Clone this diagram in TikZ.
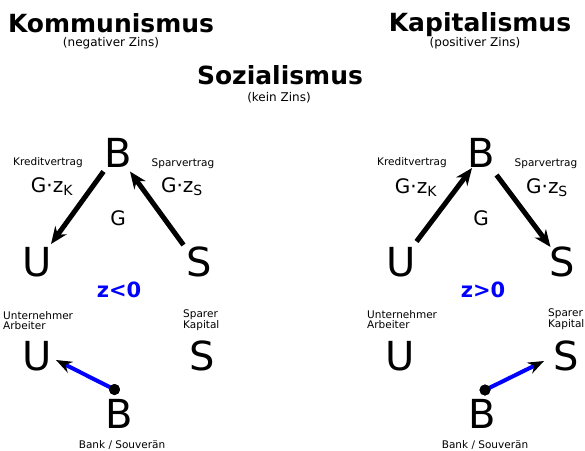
\documentclass[tikz,border=0pt]{standalone}
\usepackage{fontspec}
\setmainfont{DejaVu Sans}
\usetikzlibrary{arrows.meta}
\begin{document}
\begin{tikzpicture}[x=1pt,y=-1pt,
  title/.style={anchor=base,inner sep=0pt,font=\fontsize{25}{30}\selectfont\bfseries},
  sub/.style={anchor=base,inner sep=0pt,font=\fontsize{12}{14}\selectfont},
  big/.style={anchor=base,inner sep=0pt,font=\fontsize{40}{48}\selectfont},
  small/.style={anchor=base,inner sep=0pt,font=\fontsize{10.5}{12.5}\selectfont},
  smallleft/.style={anchor=base west,inner sep=0pt,font=\fontsize{10.5}{12.5}\selectfont},
  mid/.style={anchor=base,inner sep=0pt,font=\fontsize{20}{24}\selectfont},
  zlabel/.style={anchor=base,inner sep=0pt,text=blue,font=\fontsize{21}{25}\selectfont\bfseries},
  flow/.style={line width=5pt,-{Stealth[length=17pt,width=14pt]}},
  bluearrow/.style={blue,line width=4pt,-{Stealth[length=16pt,width=12pt,black]}},
  dot/.style={circle,fill=black,inner sep=0pt,minimum size=11pt}
]
\useasboundingbox (0,0) rectangle (585,450);
% titles
\node[title] (komm) at (111,32) {Kommunismus};
\node[sub] (kommsub) at (111,46) {(negativer Zins)};
\node[title] (kap) at (480,31) {Kapitalismus};
\node[sub] (kapsub) at (475,46) {(positiver Zins)};
\node[title] (soz) at (280,84) {Sozialismus};
\node[sub] (sozsub) at (279,101) {(kein Zins)};

% left triangle
\node[big] (lB) at (118,167) {B};
\node[big] (lU) at (37,276) {U};
\node[big] (lS) at (199,276) {S};
\node[small] (lkv) at (48,165) {Kreditvertrag};
\node[mid] (lgk) at (52,192) {G·z\textsubscript{K}};
\node[small] (lsv) at (183,166) {Sparvertrag};
\node[mid] (lgs) at (182,192) {G·z\textsubscript{S}};
\node[mid] (lG) at (118,225) {G};
\node[zlabel] (lz) at (119,297) {z<0};
\coordinate (la1) at (103.5,171.5);
\coordinate (la2) at (51,244);
\coordinate (la3) at (183.5,245);
\coordinate (la4) at (130,171.5);
\draw[flow] (la1) -- (la2);
\draw[flow] (la3) -- (la4);

% right triangle
\node[big] (rB) at (481,167) {B};
\node[big] (rU) at (401,276) {U};
\node[big] (rS) at (562,276) {S};
\node[small] (rkv) at (412,165) {Kreditvertrag};
\node[mid] (rgk) at (416,193) {G·z\textsubscript{K}};
\node[small] (rsv) at (546,166) {Sparvertrag};
\node[mid] (rgs) at (547,193) {G·z\textsubscript{S}};
\node[mid] (rG) at (481,225) {G};
\node[zlabel] (rz) at (483,297) {z>0};
\coordinate (ra1) at (416.5,241.5);
\coordinate (ra2) at (472,168);
\coordinate (ra3) at (496.5,175);
\coordinate (ra4) at (550.5,247);
\draw[flow] (ra1) -- (ra2);
\draw[flow] (ra3) -- (ra4);

% bottom left
\node[smallleft] (lun) at (3,319) {Unternehmer};
\node[smallleft] (lar) at (3,329) {Arbeiter};
\node[smallleft] (lsp) at (183,317) {Sparer};
\node[smallleft] (lka) at (183,328) {Kapital};
\node[big] (lU2) at (37,370) {U};
\node[big] (lS2) at (202,370) {S};
\node[big] (lB2) at (119,428) {B};
\node[small] (lbank) at (122,448) {Bank / Souverän};
\node[dot] (ldot) at (114.5,389.5) {};
\coordinate (lbt) at (56,360);
\draw[bluearrow] (ldot.center) -- (lbt);
\node[dot] at (114.5,389.5) {};

% bottom right
\node[smallleft] (run) at (367,318) {Unternehmer};
\node[smallleft] (rar) at (367,328) {Arbeiter};
\node[smallleft] (rsp) at (548,316) {Sparer};
\node[smallleft] (rka) at (548,327) {Kapital};
\node[big] (rU2) at (400,370) {U};
\node[big] (rS2) at (566,370) {S};
\node[big] (rB2) at (482,428) {B};
\node[small] (rbank) at (485,448) {Bank / Souverän};
\node[dot] (rdot) at (485,390) {};
\coordinate (rbt) at (544,361);
\draw[bluearrow] (rdot.center) -- (rbt);
\node[dot] at (485,390) {};
\end{tikzpicture}
\end{document}
